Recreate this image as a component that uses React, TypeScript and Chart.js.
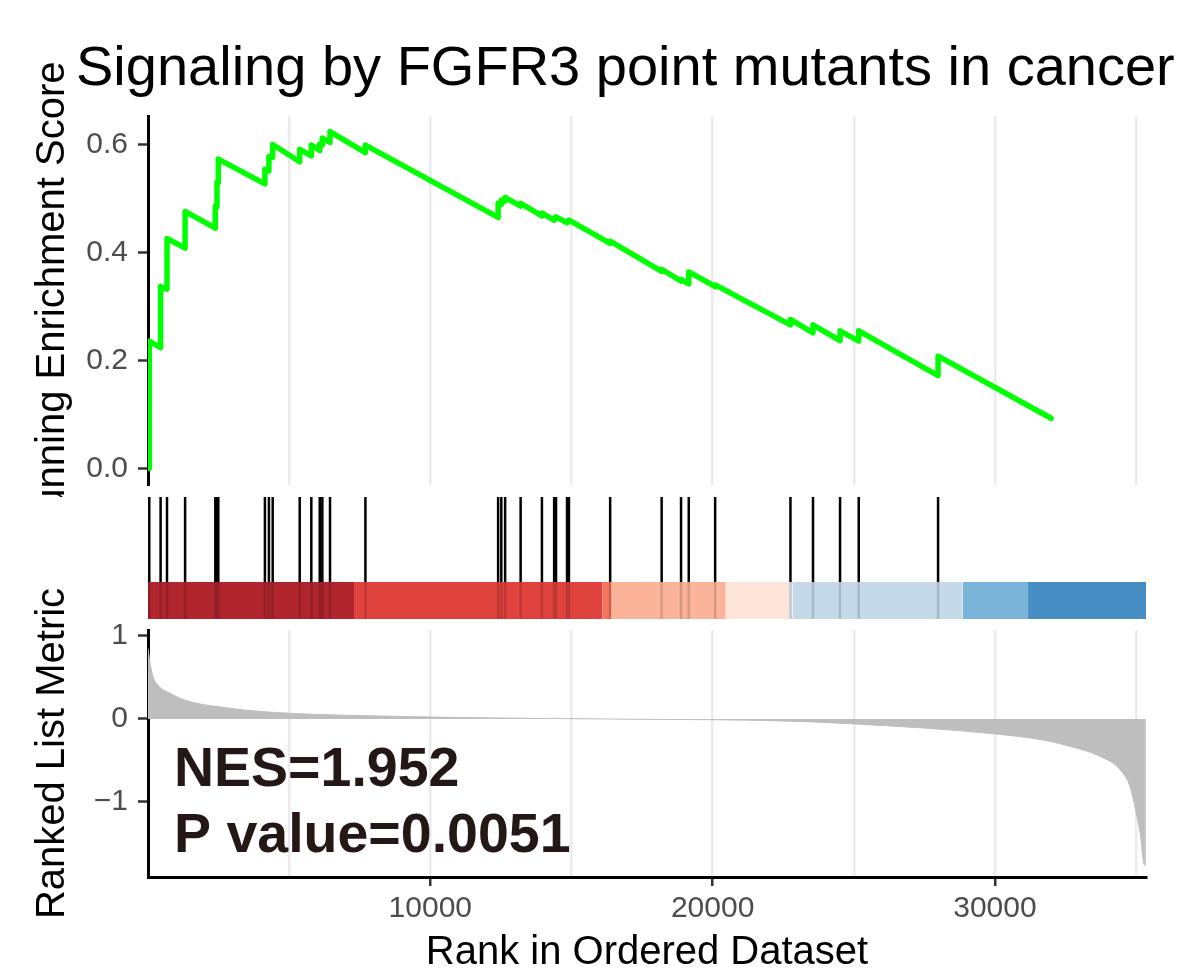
import React, { useEffect, useRef } from 'react';
import { Chart, registerables } from 'chart.js';

Chart.register(...registerables);

const FONT = '"Liberation Sans", Arial, Helvetica, sans-serif';

// ---------- texts ----------
const chartTitle = 'Signaling by FGFR3 point mutants in cancer';
const xTitle = 'Rank in Ordered Dataset';
const esTitle = 'Running Enrichment Score';
const metricTitle = 'Ranked List Metric';
const nesLabel = 'NES=1.952';
const pLabel = 'P value=0.0051';

// ---------- axes ----------
const rankMax = 35350;
const xLabelTicks = [10000, 20000, 30000];
const xGridBreaks = [5000, 10000, 15000, 20000, 25000, 30000, 35000];
const esTicks = [0, 0.2, 0.4, 0.6];
const metricTicks = [-1, 0, 1];

// ---------- gene-set hits and running enrichment score ----------
const hitRanks = [45, 446, 673, 1314, 2384, 2444, 2490, 4141, 4283, 4417, 5374, 5785, 6083, 6175, 6447, 7701, 12402, 12515, 12650, 13199, 13953, 14386, 14453, 14843, 14910, 16370, 18194, 18881, 19154, 20089, 22756, 23555, 24513, 25175, 27985];
const esBefore = [0, 0.224, 0.332, 0.408, 0.445, 0.484, 0.529, 0.527, 0.551, 0.576, 0.568, 0.579, 0.589, 0.599, 0.604, 0.585, 0.465, 0.489, 0.495, 0.486, 0.468, 0.46, 0.463, 0.455, 0.457, 0.417, 0.365, 0.347, 0.342, 0.337, 0.266, 0.251, 0.237, 0.236, 0.172];
const esAfter = [0.236, 0.337, 0.426, 0.476, 0.486, 0.53, 0.573, 0.554, 0.578, 0.6, 0.591, 0.599, 0.601, 0.612, 0.624, 0.599, 0.491, 0.497, 0.502, 0.491, 0.473, 0.464, 0.466, 0.458, 0.46, 0.421, 0.369, 0.35, 0.364, 0.34, 0.276, 0.266, 0.255, 0.255, 0.208];
const esEndRank = 31990;
const esEndValue = 0.093;

// ---------- ranked list metric ----------
const metricRanks = [0, 40, 95, 190, 430, 780, 1130, 1720, 2310, 2900, 3500, 4680, 6000, 8300, 11000, 13500, 16200, 18500, 21200, 23500, 25000, 27500, 30000, 31650, 32550, 33720, 34430, 34790, 34960, 35140, 35300, 35345];
const metricValues = [0.85, 0.75, 0.63, 0.5, 0.38, 0.31, 0.25, 0.19, 0.155, 0.13, 0.105, 0.075, 0.055, 0.035, 0.018, 0.008, 0, -0.006, -0.014, -0.035, -0.06, -0.11, -0.18, -0.25, -0.32, -0.45, -0.61, -0.82, -1.06, -1.37, -1.76, -1.76];

// ---------- colour bar ----------
const barBreaks = [0, 7297, 16107, 16426, 20464, 22706, 22848, 28860, 31173, 35350];
const barColors = ['#B0252E', '#E0423D', '#F4735A', '#FBB39A', '#FEE5DA', '#E4ECF3', '#C4DAE8', '#7AB5D9', '#468DC3'];

const setTicks = (vals: number[]) => (s: any) => {
  s.ticks = vals.map((v) => ({ value: v }));
};
const zeroPad = (extra?: (s: any) => void) => (s: any) => {
  if (extra) extra(s);
  s.paddingTop = 0;
  s.paddingBottom = 0;
  s.paddingLeft = 0;
  s.paddingRight = 0;
};

export default function App() {
  const topRef = useRef<HTMLCanvasElement>(null);
  const midRef = useRef<HTMLCanvasElement>(null);
  const botRef = useRef<HTMLCanvasElement>(null);

  useEffect(() => {
    Chart.defaults.font.family = FONT;
    const charts: Chart[] = [];

    // ---------- top panel ----------
    const esData: { x: number; y: number }[] = [];
    hitRanks.forEach((r, i) => {
      esData.push({ x: r, y: esBefore[i] });
      esData.push({ x: r, y: esAfter[i] });
    });
    esData.push({ x: esEndRank, y: esEndValue });

    const titlePlugin = {
      id: 'mainTitle',
      afterDraw(chart: any) {
        const ctx = chart.ctx;
        ctx.save();
        ctx.font = '56px ' + FONT;
        ctx.fillStyle = '#000';
        ctx.textBaseline = 'alphabetic';
        ctx.textAlign = 'left';
        ctx.fillText(chartTitle, 76, 85);
        ctx.restore();
      },
    };

    charts.push(
      new Chart(topRef.current as HTMLCanvasElement, {
        type: 'line',
        data: {
          datasets: [
            {
              data: esData,
              borderColor: '#00FF00',
              borderWidth: 5.5,
              pointRadius: 0,
              tension: 0,
              fill: false,
              borderJoinStyle: 'round',
              borderCapStyle: 'round',
            } as any,
          ],
        },
        options: {
          responsive: false,
          animation: false,
          devicePixelRatio: 1,
          events: [],
          layout: { autoPadding: false, padding: { left: 29, right: 38, top: 116, bottom: 12 } } as any,
          plugins: { legend: { display: false }, tooltip: { enabled: false }, title: { display: false } },
          scales: {
            x: {
              type: 'linear',
              min: 0,
              max: rankMax,
              bounds: 'data',
              afterBuildTicks: setTicks(xGridBreaks),
              afterFit: zeroPad((s) => { s.height = 0; }),
              ticks: { display: false },
              grid: { color: '#EBEBEB', lineWidth: 2.5, drawTicks: false },
              border: { display: false },
            },
            y: {
              type: 'linear',
              min: -0.0306,
              max: 0.6528,
              bounds: 'data',
              afterBuildTicks: setTicks(esTicks),
              afterFit: zeroPad((s) => { s.width = 119; }),
              ticks: {
                color: '#4D4D4D',
                font: { size: 30 },
                padding: 10,
                callback: (v: any) => Number(v).toFixed(1),
              },
              grid: { drawOnChartArea: false, drawTicks: true, tickLength: 10, tickColor: '#333333', tickWidth: 2.5 },
              border: { display: true, color: '#000000', width: 3 },
              title: { display: true, text: esTitle, color: '#000000', font: { size: 40 }, padding: 0 },
            },
          },
        } as any,
        plugins: [titlePlugin],
      })
    );

    // ---------- middle panel ----------
    const barTop = 0.303;
    const hitsUpper: any[] = [];
    const hitsLower: any[] = [];
    hitRanks.forEach((r) => {
      hitsUpper.push({ x: r, y: barTop }, { x: r, y: 1 }, { x: r, y: null });
      hitsLower.push({ x: r, y: 0 }, { x: r, y: barTop }, { x: r, y: null });
    });
    const barSets = barColors.map((c, i) => ({
      data: [
        { x: barBreaks[i], y: barTop },
        { x: barBreaks[i + 1], y: barTop },
      ],
      fill: 'origin',
      backgroundColor: c,
      borderWidth: 0,
      borderColor: c,
      pointRadius: 0,
      tension: 0,
      order: 5,
    }));

    charts.push(
      new Chart(midRef.current as HTMLCanvasElement, {
        type: 'line',
        data: {
          datasets: [
            { data: hitsUpper, borderColor: '#000000', borderWidth: 2.5, pointRadius: 0, spanGaps: false, fill: false, order: 1 },
            { data: hitsLower, borderColor: 'rgba(0,0,0,0.15)', borderWidth: 2.5, pointRadius: 0, spanGaps: false, fill: false, order: 2 },
            ...barSets,
          ] as any,
        },
        options: {
          responsive: false,
          animation: false,
          devicePixelRatio: 1,
          events: [],
          layout: { autoPadding: false, padding: { left: 148, right: 38, top: 0, bottom: 0 } } as any,
          plugins: { legend: { display: false }, tooltip: { enabled: false } },
          scales: {
            x: { type: 'linear', min: 0, max: rankMax, display: false },
            y: { type: 'linear', min: 0, max: 1, display: false },
          },
        } as any,
      })
    );

    // ---------- bottom panel ----------
    const metricData = metricRanks.map((r, i) => ({ x: r, y: metricValues[i] }));
    const nesPlugin = {
      id: 'nesText',
      afterDatasetsDraw(chart: any) {
        const { ctx, chartArea } = chart;
        ctx.save();
        ctx.font = 'bold 55.5px ' + FONT;
        ctx.fillStyle = '#231815';
        ctx.textBaseline = 'alphabetic';
        ctx.textAlign = 'left';
        ctx.fillText(nesLabel, chartArea.left + 26, chartArea.top + 156);
        ctx.fillText(pLabel, chartArea.left + 26, chartArea.top + 222);
        ctx.restore();
      },
    };

    charts.push(
      new Chart(botRef.current as HTMLCanvasElement, {
        type: 'line',
        data: {
          datasets: [
            {
              data: metricData,
              fill: 'origin',
              backgroundColor: '#BEBEBE',
              borderColor: '#BEBEBE',
              borderWidth: 1,
              pointRadius: 0,
              cubicInterpolationMode: 'monotone',
            } as any,
          ],
        },
        options: {
          responsive: false,
          animation: false,
          devicePixelRatio: 1,
          events: [],
          layout: { autoPadding: false, padding: { left: 29, right: 38, top: 90, bottom: 0 } } as any,
          plugins: { legend: { display: false }, tooltip: { enabled: false } },
          scales: {
            x: {
              type: 'linear',
              min: 0,
              max: rankMax,
              bounds: 'data',
              afterBuildTicks: setTicks(xGridBreaks),
              afterFit: zeroPad((s) => { s.height = 100; }),
              ticks: {
                color: '#4D4D4D',
                font: { size: 30 },
                padding: 5,
                autoSkip: false,
                maxRotation: 0,
                minRotation: 0,
                callback: (v: any) => (xLabelTicks.includes(Number(v)) ? String(v) : ''),
              },
              grid: {
                color: '#EBEBEB',
                lineWidth: 2.5,
                drawTicks: true,
                tickLength: 9,
                tickWidth: 2.5,
                tickColor: (c: any) => (c.tick && xLabelTicks.includes(c.tick.value) ? '#333333' : 'rgba(0,0,0,0)'),
              },
              border: { display: true, color: '#000000', width: 3 },
              title: { display: true, text: xTitle, color: '#000000', font: { size: 40 }, padding: 0 },
            },
            y: {
              type: 'linear',
              min: -1.904,
              max: 1.072,
              bounds: 'data',
              afterBuildTicks: setTicks(metricTicks),
              afterFit: zeroPad((s) => { s.width = 119; }),
              ticks: {
                color: '#4D4D4D',
                font: { size: 30 },
                padding: 10,
                callback: (v: any) => (Number(v) < 0 ? '\u2212' + Math.abs(Number(v)) : String(v)),
              },
              grid: { drawOnChartArea: false, drawTicks: true, tickLength: 10, tickColor: '#333333', tickWidth: 2.5 },
              border: { display: true, color: '#000000', width: 3 },
              title: { display: true, text: metricTitle, color: '#000000', font: { size: 40 }, padding: 0 },
            },
          },
        } as any,
        plugins: [nesPlugin],
      })
    );

    return () => {
      charts.forEach((c) => c.destroy());
    };
  }, []);

  return (
    <div style={{ position: 'absolute', left: 0, top: 0, width: 1184, height: 977, background: '#ffffff', overflow: 'hidden' }}>
      <canvas ref={topRef} width={1184} height={497} style={{ position: 'absolute', left: 0, top: 0, width: 1184, height: 497 }} />
      <canvas ref={midRef} width={1184} height={122} style={{ position: 'absolute', left: 0, top: 497, width: 1184, height: 122 }} />
      <canvas ref={botRef} width={1184} height={437} style={{ position: 'absolute', left: 0, top: 540, width: 1184, height: 437 }} />
    </div>
  );
}
